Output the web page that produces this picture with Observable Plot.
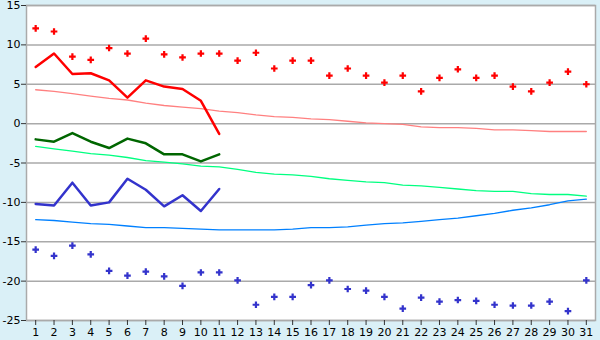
<!DOCTYPE html>
<html>
<head>
<meta charset="utf-8">
<script src="https://cdn.jsdelivr.net/npm/d3@7"></script>
<script src="https://cdn.jsdelivr.net/npm/@observablehq/plot@0.6"></script>
<style>
  html, body { margin: 0; padding: 0; background: #daf0f7; }
  #chart svg { display: block; }
</style>
</head>
<body>
<div id="chart"></div>
<script>
const days = d3.range(1, 32);
const yTicks = [-25, -20, -15, -10, -5, 0, 5, 10, 15];

const recordHigh = [12.1, 11.7, 8.5, 8.1, 9.6, 8.9, 10.8, 8.8, 8.4, 8.9, 8.9, 8.0, 9.0, 7.0, 8.0, 8.0, 6.1, 7.0, 6.1, 5.2, 6.1, 4.1, 5.8, 6.9, 5.8, 6.1, 4.7, 4.1, 5.2, 6.6, 5.0];
const maxTemp = [7.2, 8.9, 6.3, 6.4, 5.5, 3.3, 5.5, 4.7, 4.4, 2.9, -1.3];
const normalHigh = [4.3, 4.1, 3.8, 3.5, 3.2, 3.0, 2.6, 2.3, 2.1, 1.9, 1.6, 1.4, 1.1, 0.9, 0.8, 0.6, 0.5, 0.3, 0.1, 0.0, -0.1, -0.4, -0.5, -0.5, -0.6, -0.8, -0.8, -0.9, -1.0, -1.0, -1.0];
const meanTemp = [-2.0, -2.3, -1.2, -2.3, -3.1, -1.9, -2.5, -3.9, -3.9, -4.8, -3.9];
const normalMean = [-2.9, -3.2, -3.5, -3.8, -4.0, -4.3, -4.7, -4.9, -5.1, -5.4, -5.5, -5.8, -6.2, -6.4, -6.5, -6.7, -7.0, -7.2, -7.4, -7.5, -7.8, -7.9, -8.1, -8.3, -8.5, -8.6, -8.6, -8.9, -9.0, -9.0, -9.2];
const minTemp = [-10.2, -10.4, -7.5, -10.4, -10.0, -7.0, -8.4, -10.5, -9.1, -11.1, -8.3];
const normalLow = [-12.2, -12.3, -12.5, -12.7, -12.8, -13.0, -13.2, -13.2, -13.3, -13.4, -13.5, -13.5, -13.5, -13.5, -13.4, -13.2, -13.2, -13.1, -12.9, -12.7, -12.6, -12.4, -12.2, -12.0, -11.7, -11.4, -11.0, -10.7, -10.3, -9.8, -9.6];
const recordLow = [-16.0, -16.8, -15.5, -16.6, -18.7, -19.3, -18.8, -19.4, -20.6, -18.9, -18.9, -19.9, -23.0, -22.0, -22.0, -20.5, -19.9, -21.0, -21.2, -22.0, -23.5, -22.1, -22.6, -22.4, -22.5, -23.0, -23.1, -23.1, -22.6, -23.8, -19.9];

const series = (vals) => vals.map((v, i) => ({day: days[i], v}));

const chart = Plot.plot({
  width: 600,
  height: 340,
  marginLeft: 26,
  marginRight: 5,
  marginTop: 5,
  marginBottom: 20,
  style: {background: "#daf0f7", fontFamily: "DejaVu Sans", fontSize: "11px", color: "black"},
  x: {type: "linear", domain: [0.5, 31.5], label: null},
  y: {domain: [-25, 15], label: null},
  marks: [
    Plot.frame({fill: "white", stroke: "#aaaaaa", strokeWidth: 1.5}),
    Plot.ruleY(yTicks, {stroke: "#aaaaaa", strokeWidth: 1.5}),
    Plot.line(series(normalHigh), {x: "day", y: "v", stroke: "#ff8080", strokeWidth: 1.3}),
    Plot.line(series(normalMean), {x: "day", y: "v", stroke: "#00ff80", strokeWidth: 1.3}),
    Plot.line(series(normalLow), {x: "day", y: "v", stroke: "#0080ff", strokeWidth: 1.3}),
    Plot.line(series(maxTemp), {x: "day", y: "v", stroke: "#ff0000", strokeWidth: 2.5}),
    Plot.line(series(meanTemp), {x: "day", y: "v", stroke: "#006600", strokeWidth: 2.5}),
    Plot.line(series(minTemp), {x: "day", y: "v", stroke: "#3333cc", strokeWidth: 2.5}),
    Plot.dot(series(recordHigh), {x: "day", y: "v", symbol: "cross", r: 2.8, fill: "#ff0000", stroke: "none"}),
    Plot.dot(series(recordLow), {x: "day", y: "v", symbol: "cross", r: 2.8, fill: "#3333cc", stroke: "none"}),
    Plot.axisX({ticks: days, tickFormat: d => String(d), tickSize: 5, tickPadding: 3, stroke: "#333", label: null}),
    Plot.axisY({ticks: yTicks, tickFormat: d => String(d), tickSize: 5, tickPadding: 1, stroke: "#333", label: null})
  ]
});
document.getElementById("chart").appendChild(chart);
</script>
</body>
</html>
